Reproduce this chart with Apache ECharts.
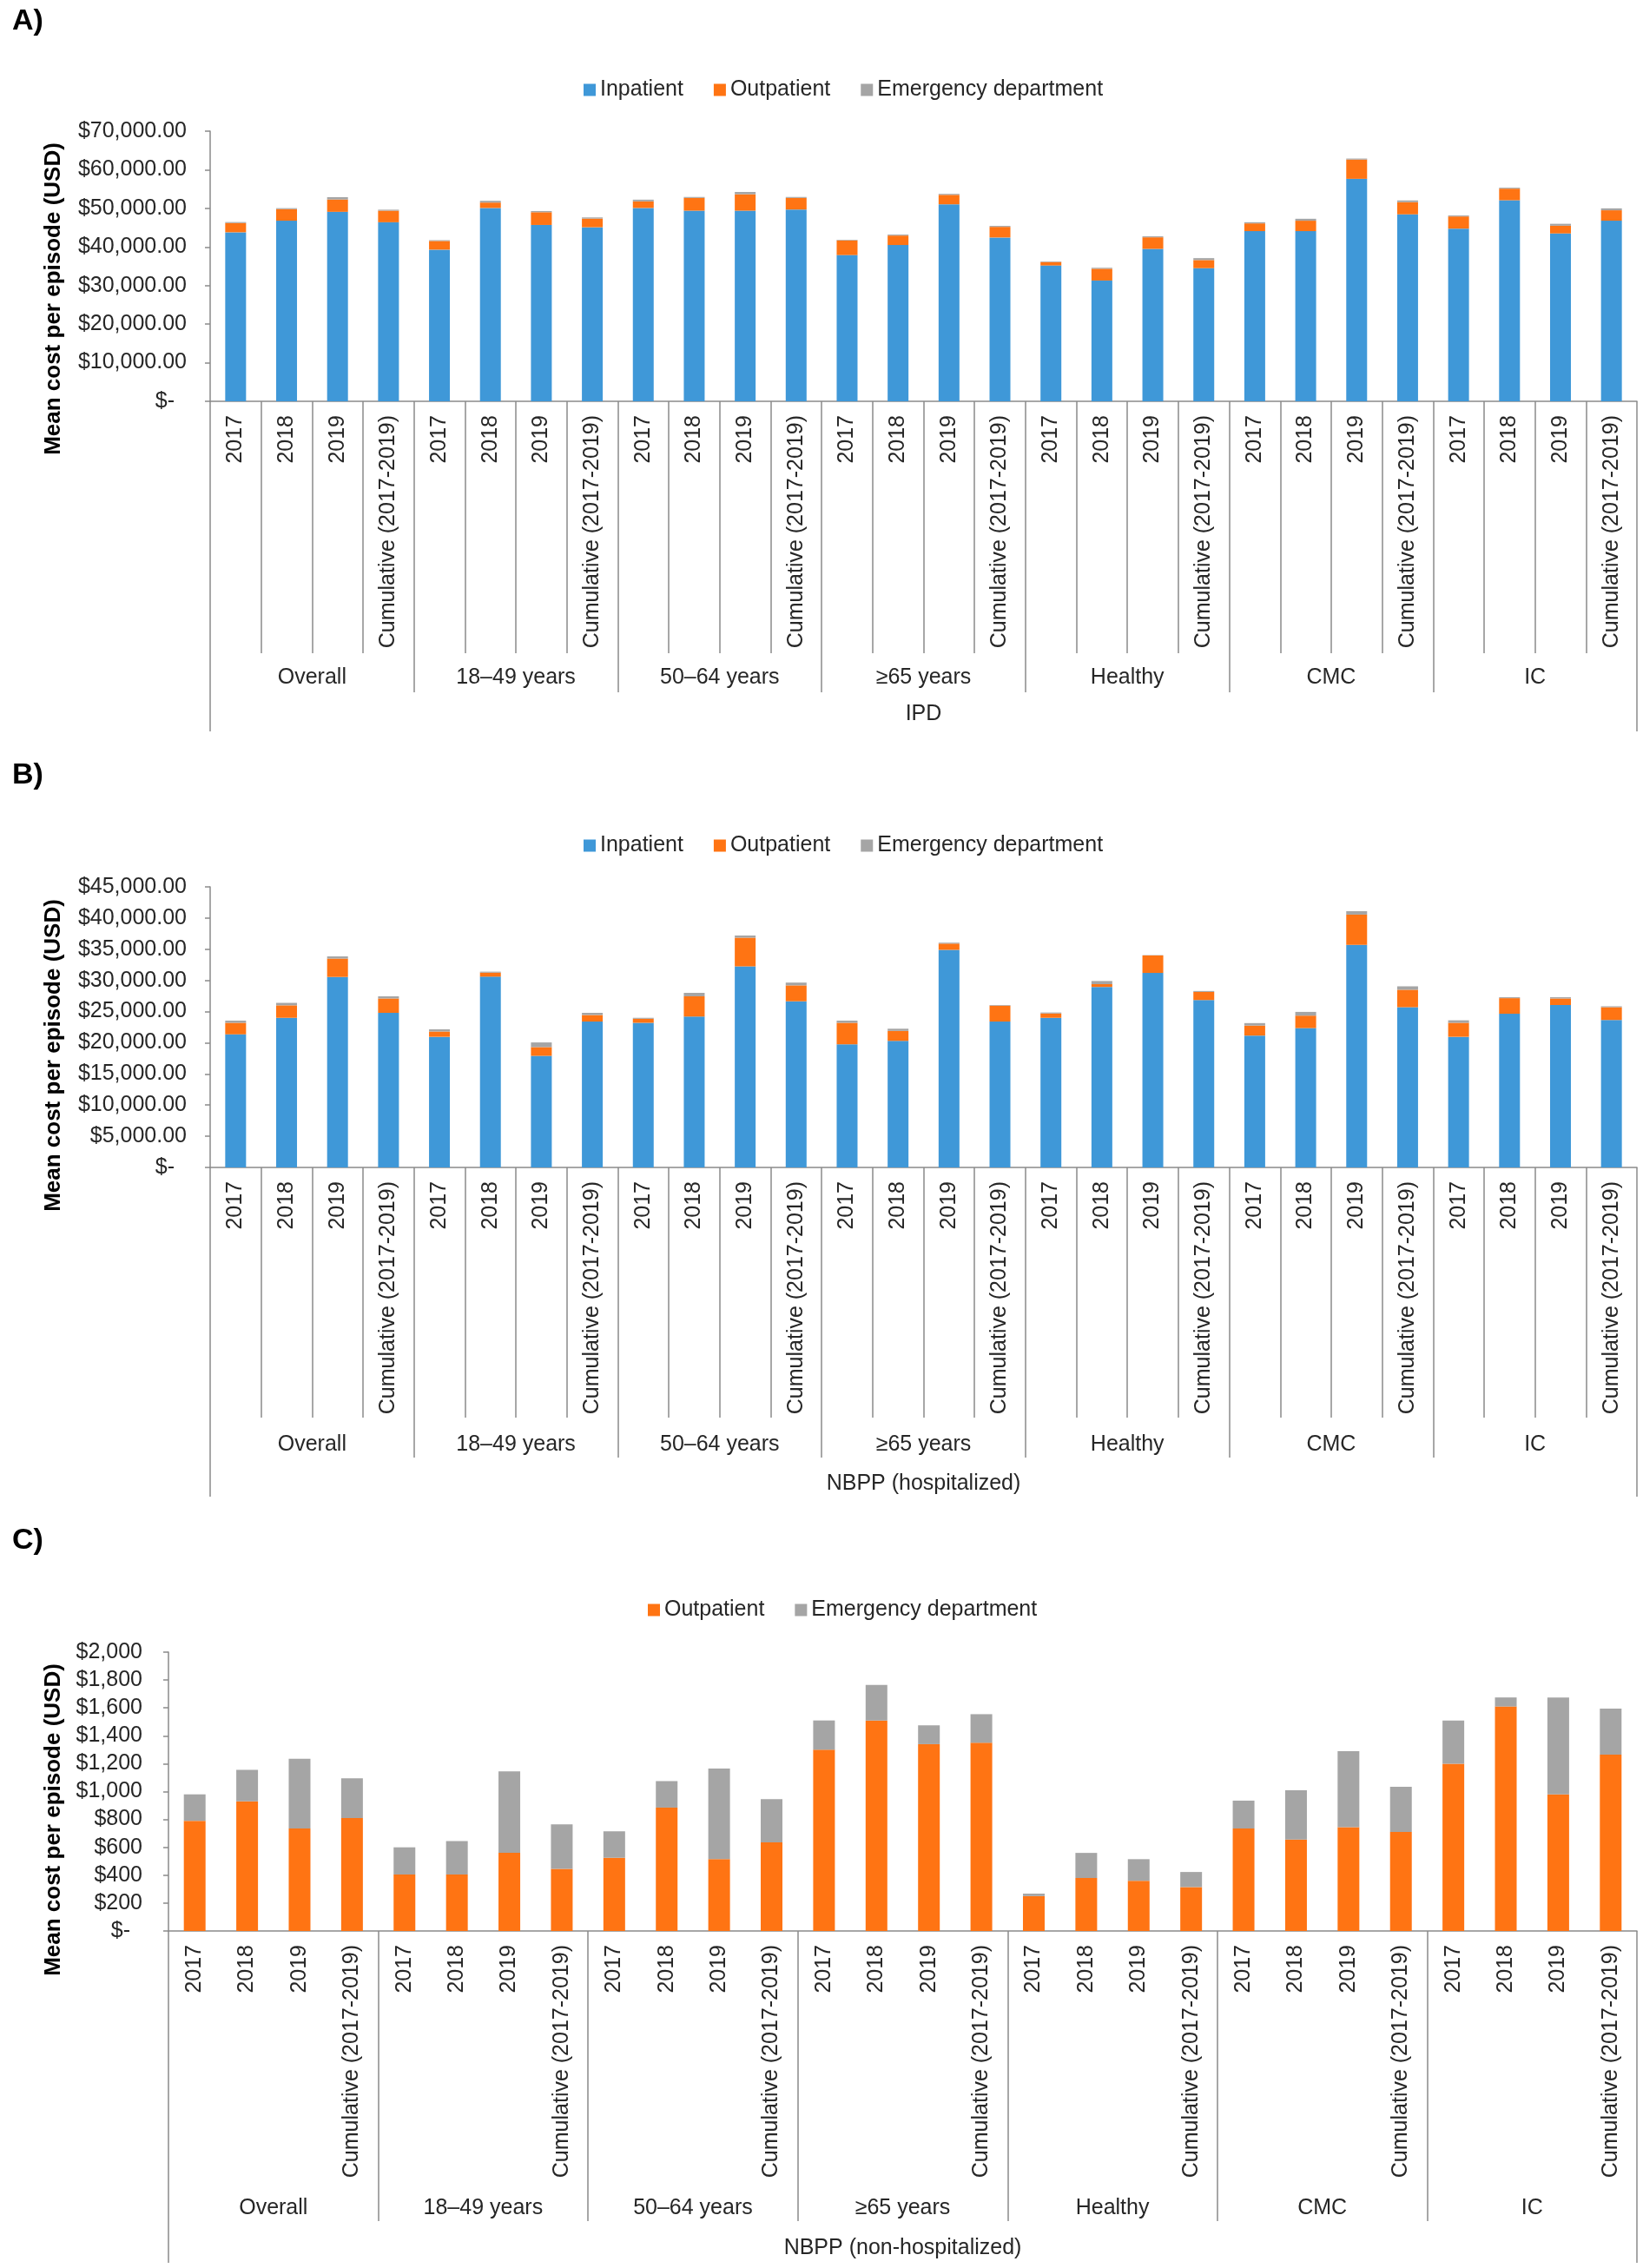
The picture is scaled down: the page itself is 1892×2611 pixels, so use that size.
<!DOCTYPE html>
<html>
<head>
<meta charset="utf-8">
<title>Mean cost per episode</title>
<script src="https://cdn.jsdelivr.net/npm/echarts@6.0.0/dist/echarts.min.js"></script>
<style>
  html, body { margin: 0; padding: 0; background: #fff; }
  #chart { width: 1892px; height: 2611px; }
</style>
</head>
<body>
<div id="chart"></div>
<script>
const years = ['2017', '2018', '2019', 'Cumulative (2017-2019)'];
const groups = ['Overall', '18–49 years', '50–64 years', '≥65 years', 'Healthy', 'CMC', 'IC'];
const categories = groups.flatMap(() => years);

// A) IPD
const ipdInpatient = [43800, 46800, 49100, 46400, 39300, 50100, 45700, 45100, 50100, 49400, 49400, 49700,
  37900, 40500, 51050, 42450, 35200, 31300, 39500, 34500, 44100, 44100, 57650, 48450, 44750, 52100, 43500, 46800];
const ipdOutpatient = [2400, 3000, 3200, 3000, 2250, 1400, 3300, 2250, 1700, 3300, 4250, 3000,
  3800, 2450, 2450, 2750, 900, 3050, 3000, 2100, 2000, 2700, 5000, 3150, 3150, 3000, 2000, 2700];
const ipdEmergency = [250, 250, 600, 250, 200, 450, 300, 300, 450, 250, 600, 250,
  150, 250, 250, 250, 150, 250, 250, 500, 300, 500, 250, 450, 250, 250, 500, 500];

// B) NBPP (hospitalized)
const hospInpatient = [21350, 24000, 30550, 24800, 20950, 30600, 17900, 23400, 23200, 24200, 32250, 26650,
  19750, 20300, 34900, 23400, 24000, 28950, 31200, 26850, 21150, 22350, 35700, 25700, 20950, 24650, 26050, 23650];
const hospOutpatient = [1850, 2000, 2950, 2300, 850, 650, 1400, 1050, 650, 3250, 4600, 2550,
  3450, 1600, 1000, 2550, 700, 450, 2800, 1300, 1600, 2000, 4850, 2800, 2250, 2500, 1050, 2050];
const hospEmergency = [350, 400, 350, 350, 350, 150, 750, 350, 150, 550, 350, 450,
  350, 350, 150, 100, 150, 500, 50, 150, 400, 600, 550, 550, 400, 150, 200, 150];

// C) NBPP (non-hospitalized)
const nonHospOutpatient = [790, 930, 735, 810, 405, 405, 560, 445, 525, 885, 515, 635,
  1300, 1510, 1340, 1350, 250, 380, 360, 315, 735, 655, 745, 710, 1200, 1610, 980, 1265];
const nonHospEmergency = [190, 225, 500, 285, 195, 240, 585, 320, 190, 190, 650, 310,
  210, 255, 135, 205, 18, 180, 155, 108, 200, 355, 545, 325, 310, 65, 695, 330];

const BLUE = '#3f98d8';
const ORANGE = '#ff7413';
const GRAY = '#a5a5a5';
const LINE = '#8a8a8a';
const TEXT = '#262626';
const FONT = '"Liberation Sans", Arial, sans-serif';

const panels = [
  {
    name: 'IPD',
    grid: { left: 242, top: 151, width: 1643, height: 311 },
    max: 70000, interval: 10000, decimals: 2, labelMargin: 27,
    legend: { left: 667, top: 86 },
    ticks: [290, 335, 380], groupMargin: 306, bottomMargin: 348,
    series: [['Inpatient', ipdInpatient, BLUE], ['Outpatient', ipdOutpatient, ORANGE], ['Emergency department', ipdEmergency, GRAY]],
    barWidth: 24
  },
  {
    name: 'NBPP (hospitalized)',
    grid: { left: 242, top: 1021, width: 1643, height: 323 },
    max: 45000, interval: 5000, decimals: 2, labelMargin: 27,
    legend: { left: 667, top: 956 },
    ticks: [288, 334, 379], groupMargin: 307, bottomMargin: 352,
    series: [['Inpatient', hospInpatient, BLUE], ['Outpatient', hospOutpatient, ORANGE], ['Emergency department', hospEmergency, GRAY]],
    barWidth: 24
  },
  {
    name: 'NBPP (non-hospitalized)',
    grid: { left: 194, top: 1902, width: 1691, height: 321 },
    max: 2000, interval: 200, decimals: 0, labelMargin: 30,
    legend: { left: 741, top: 1836 },
    ticks: [0, 334, 382], groupMargin: 307, bottomMargin: 353,
    series: [['Outpatient', nonHospOutpatient, ORANGE], ['Emergency department', nonHospEmergency, GRAY]],
    barWidth: 25
  }
];

function moneyLabel(decimals) {
  return function (v) {
    if (v === 0) return '{z|$-}';
    return '$' + v.toLocaleString('en-US', { minimumFractionDigits: decimals, maximumFractionDigits: decimals });
  };
}

const option = {
  animation: false,
  backgroundColor: '#fff',
  textStyle: { fontFamily: FONT },
  grid: [],
  xAxis: [],
  yAxis: [],
  legend: [],
  series: [],
  graphic: []
};

panels.forEach((p, i) => {
  option.grid.push(p.grid);

  // years
  option.xAxis.push({
    type: 'category', gridIndex: i, position: 'bottom', data: categories,
    axisLine: { show: true, lineStyle: { color: LINE, width: 1.5 } },
    axisTick: { show: p.ticks[0] > 0, interval: 0, length: p.ticks[0], lineStyle: { color: LINE, width: 1.5 } },
    axisLabel: { interval: 0, rotate: 90, margin: 16, fontSize: 25, color: TEXT, fontFamily: FONT }
  });
  // subgroups
  option.xAxis.push({
    type: 'category', gridIndex: i, position: 'bottom', data: groups,
    axisLine: { show: false },
    axisTick: { show: true, interval: 0, length: p.ticks[1], lineStyle: { color: LINE, width: 1.5 } },
    axisLabel: { interval: 0, margin: p.groupMargin, fontSize: 25, color: TEXT, fontFamily: FONT }
  });
  // episode type
  option.xAxis.push({
    type: 'category', gridIndex: i, position: 'bottom', data: [p.name],
    axisLine: { show: false },
    axisTick: { show: true, interval: 0, length: p.ticks[2], lineStyle: { color: LINE, width: 1.5 } },
    axisLabel: { interval: 0, margin: p.bottomMargin, fontSize: 25, color: TEXT, fontFamily: FONT }
  });

  option.yAxis.push({
    type: 'value', gridIndex: i, min: 0, max: p.max, interval: p.interval,
    axisLine: { show: true, lineStyle: { color: LINE, width: 1.5 } },
    axisTick: { show: true, length: 6, lineStyle: { color: LINE, width: 1.5 } },
    splitLine: { show: false },
    axisLabel: {
      margin: p.labelMargin, fontSize: 25, color: TEXT, fontFamily: FONT,
      formatter: moneyLabel(p.decimals),
      rich: { z: { fontSize: 25, color: TEXT, fontFamily: FONT, padding: [0, 14, 0, 0] } }
    }
  });

  option.legend.push({
    left: p.legend.left, top: p.legend.top,
    data: p.series.map(s => s[0]),
    icon: 'rect', itemWidth: 14, itemHeight: 14, itemGap: 35,
    selectedMode: false,
    textStyle: { fontSize: 25, color: TEXT, fontFamily: FONT }
  });

  p.series.forEach(([name, values, color]) => {
    option.series.push({
      name, type: 'bar', stack: 'panel' + i,
      xAxisIndex: i * 3, yAxisIndex: i,
      barWidth: p.barWidth,
      itemStyle: { color },
      data: values
    });
  });
});

const letters = [['A)', 25], ['B)', 893], ['C)', 1774]];
letters.forEach(([t, y]) => {
  option.graphic.push({
    type: 'text', left: 14, top: y - 17,
    style: { text: t, font: 'bold 34px ' + FONT, fill: '#000' }
  });
});

const titleCenters = [344, 1215, 2095];
titleCenters.forEach(y => {
  option.graphic.push({
    type: 'text', x: 62, y: y, rotation: Math.PI / 2,
    style: {
      text: 'Mean cost per episode (USD)', font: 'bold 26px ' + FONT, fill: '#000',
      align: 'center', verticalAlign: 'middle'
    }
  });
});

const chart = echarts.init(document.getElementById('chart'));
chart.setOption(option);
</script>
</body>
</html>
